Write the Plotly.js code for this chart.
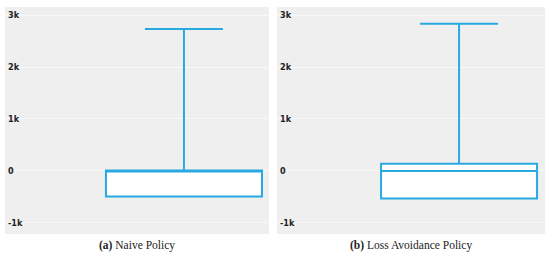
<!DOCTYPE html>
<html>
<head>
<meta charset="utf-8">
<script src="https://cdn.plot.ly/plotly-3.0.1.min.js"></script>
<style>html,body{margin:0;padding:0;background:#fff;}#chart{width:550px;height:259px;}</style>
</head>
<body>
<div id="chart"></div>
<script>
const policies = ['Naive Policy', 'Loss Avoidance Policy'];
const captionLetters = ['(a)', '(b)'];
const lowerFence = [-490, -530];
const q1 = [-490, -530];
const median = [10, 0];
const q3 = [10, 140];
const upperFence = [2730, 2830];
const tickVals = [-1000, 0, 1000, 2000, 3000];
const tickText = ['-1k', '0', '1k', '2k', '3k'];

const lineColor = '#29a9e1';
const traces = policies.map((p, i) => ({
  type: 'box',
  name: p,
  x: [0],
  q1: [q1[i]],
  median: [median[i]],
  q3: [q3[i]],
  lowerfence: [lowerFence[i]],
  upperfence: [upperFence[i]],
  width: 1,
  whiskerwidth: 0.5,
  boxpoints: false,
  fillcolor: '#ffffff',
  line: {color: lineColor, width: 2},
  hoverinfo: 'none',
  showlegend: false,
  xaxis: i === 0 ? 'x' : 'x2',
  yaxis: i === 0 ? 'y' : 'y2'
}));

const yBase = {
  range: [-1212, 3154],
  tickvals: tickVals,
  ticktext: tickText,
  ticklabelposition: 'inside',
  ticks: '',
  showline: false,
  zeroline: false,
  showgrid: true,
  gridcolor: '#f8f8f8',
  gridwidth: 1,
  tickfont: {family: "'Liberation Sans Narrow', 'DejaVu Sans Condensed', sans-serif", size: 9, color: '#222', weight: 'bold'},
  fixedrange: true
};
const xBase = {
  showgrid: false, zeroline: false, showline: false, showticklabels: false, ticks: '', fixedrange: true
};

const layout = {
  width: 550,
  height: 259,
  margin: {l: 0, r: 0, t: 7, b: 25, pad: 0},
  paper_bgcolor: '#ffffff',
  plot_bgcolor: '#efefef',
  showlegend: false,
  xaxis: Object.assign({}, xBase, {domain: [5/550, 269/550], range: [-1.147, 0.545], anchor: 'y'}),
  xaxis2: Object.assign({}, xBase, {domain: [277/550, 545/550], range: [-1.167, 0.551], anchor: 'y2'}),
  yaxis: Object.assign({}, yBase, {anchor: 'x'}),
  yaxis2: Object.assign({}, yBase, {anchor: 'x2'}),
  annotations: policies.map((p, i) => ({
    xref: 'paper', yref: 'paper',
    x: i === 0 ? 137/550 : 411/550,
    y: -0.052,
    xanchor: 'center', yanchor: 'middle',
    showarrow: false,
    text: '<b>' + captionLetters[i] + '</b> ' + p,
    font: {family: "'Liberation Serif', 'DejaVu Serif', serif", size: 11.5, color: '#222'}
  }))
};

Plotly.newPlot('chart', traces, layout, {displayModeBar: false, staticPlot: true});
</script>
</body>
</html>
